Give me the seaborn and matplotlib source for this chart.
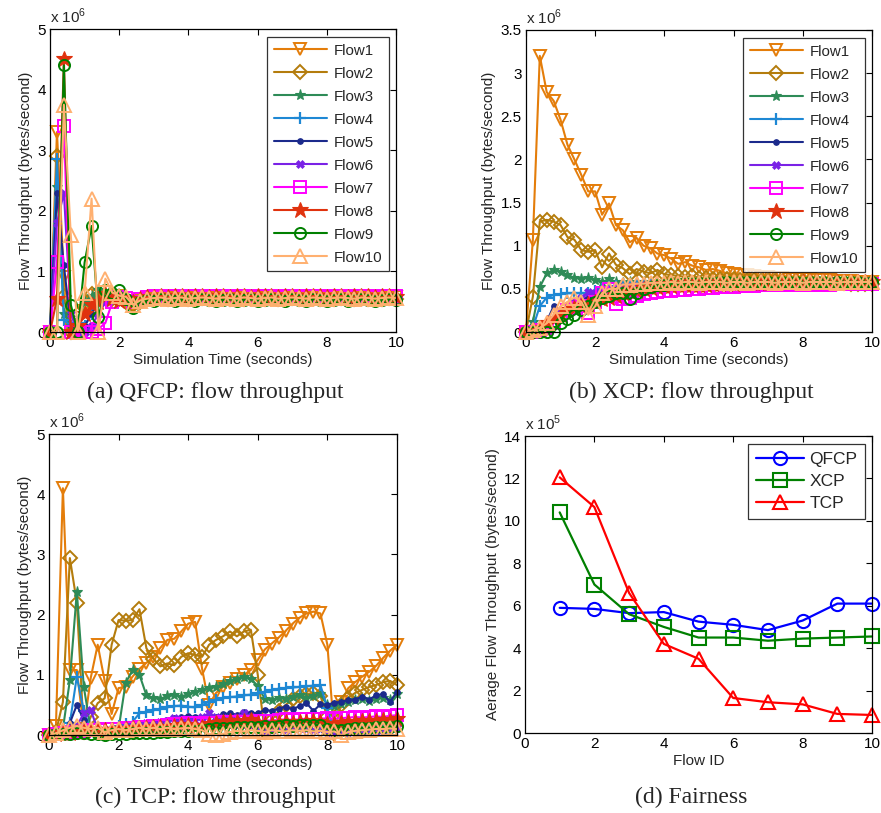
import numpy as np
import pandas as pd
import matplotlib
matplotlib.use("Agg")
import matplotlib.pyplot as plt
import seaborn as sns

# ---------------- data ----------------
TIME = [0.0, 0.2, 0.4, 0.6, 0.8, 1.0, 1.2, 1.4, 1.6, 1.8,
        2.0, 2.2, 2.4, 2.6, 2.8, 3.0, 3.2, 3.4, 3.6, 3.8,
        4.0, 4.2, 4.4, 4.6, 4.8, 5.0, 5.2, 5.4, 5.6, 5.8,
        6.0, 6.2, 6.4, 6.6, 6.8, 7.0, 7.2, 7.4, 7.6, 7.8,
        8.0, 8.2, 8.4, 8.6, 8.8, 9.0, 9.2, 9.4, 9.6, 9.8,
        10.0]

FLOWS = ["Flow1", "Flow2", "Flow3", "Flow4", "Flow5",
         "Flow6", "Flow7", "Flow8", "Flow9", "Flow10"]

# (a) QFCP flow throughput, x 10^6 bytes/second
QFCP_F1 = [0.00, 3.30, 0.90, 0.05, 0.00, 0.35, 0.50, 0.60, 0.58, 0.55,
           0.60, 0.52, 0.45, 0.52, 0.55, 0.56, 0.55, 0.57, 0.55, 0.56,
           0.55, 0.57, 0.56, 0.55, 0.57, 0.56, 0.55, 0.56, 0.57, 0.55,
           0.56, 0.57, 0.55, 0.56, 0.57, 0.56, 0.55, 0.57, 0.56, 0.55,
           0.57, 0.56, 0.55, 0.57, 0.56, 0.55, 0.57, 0.56, 0.55, 0.56,
           0.57]
QFCP_F2 = [0.00, 2.90, 0.60, 0.00, 0.10, 0.40, 0.62, 0.55, 0.60, 0.55,
           0.55, 0.50, 0.45, 0.50, 0.54, 0.55, 0.56, 0.54, 0.55, 0.56,
           0.55, 0.54, 0.56, 0.55, 0.54, 0.56, 0.55, 0.54, 0.55, 0.56,
           0.54, 0.55, 0.56, 0.54, 0.55, 0.56, 0.55, 0.54, 0.56, 0.55,
           0.54, 0.55, 0.56, 0.55, 0.54, 0.56, 0.55, 0.54, 0.55, 0.56,
           0.55]
QFCP_F3 = [0.00, 2.40, 0.30, 0.10, 0.20, 0.50, 0.60, 0.70, 0.62, 0.56,
           0.55, 0.52, 0.46, 0.52, 0.55, 0.54, 0.55, 0.53, 0.55, 0.54,
           0.53, 0.55, 0.54, 0.53, 0.55, 0.54, 0.53, 0.55, 0.54, 0.55,
           0.53, 0.54, 0.55, 0.53, 0.54, 0.55, 0.54, 0.53, 0.55, 0.54,
           0.53, 0.55, 0.54, 0.53, 0.54, 0.55, 0.53, 0.54, 0.55, 0.54,
           0.53]
QFCP_F4 = [0.00, 2.85, 0.20, 0.10, 0.15, 0.10, 0.30, 0.50, 0.55, 0.55,
           0.56, 0.54, 0.48, 0.53, 0.56, 0.57, 0.56, 0.58, 0.57, 0.56,
           0.58, 0.57, 0.56, 0.58, 0.57, 0.56, 0.57, 0.58, 0.56, 0.57,
           0.58, 0.56, 0.57, 0.58, 0.57, 0.56, 0.58, 0.57, 0.56, 0.57,
           0.58, 0.56, 0.57, 0.58, 0.56, 0.57, 0.58, 0.57, 0.56, 0.58,
           0.57]
QFCP_F5 = [0.00, 2.30, 1.10, 0.10, 0.05, 0.10, 0.30, 0.50, 0.55, 0.56,
           0.55, 0.53, 0.47, 0.52, 0.55, 0.56, 0.55, 0.56, 0.57, 0.55,
           0.56, 0.57, 0.55, 0.56, 0.55, 0.57, 0.56, 0.55, 0.56, 0.57,
           0.55, 0.56, 0.57, 0.56, 0.55, 0.56, 0.57, 0.55, 0.56, 0.57,
           0.56, 0.55, 0.56, 0.57, 0.55, 0.56, 0.57, 0.56, 0.55, 0.56,
           0.57]
QFCP_F6 = [0.00, 1.80, 2.30, 0.30, 0.00, 0.00, 0.10, 0.30, 0.50, 0.56,
           0.57, 0.55, 0.48, 0.53, 0.56, 0.58, 0.57, 0.56, 0.58, 0.57,
           0.56, 0.58, 0.57, 0.58, 0.56, 0.57, 0.58, 0.57, 0.56, 0.58,
           0.57, 0.56, 0.58, 0.57, 0.58, 0.56, 0.57, 0.58, 0.57, 0.56,
           0.58, 0.57, 0.56, 0.58, 0.57, 0.58, 0.56, 0.57, 0.58, 0.57,
           0.56]
QFCP_F7 = [0.00, 1.15, 3.40, 0.00, 0.00, 0.00, 0.00, 0.05, 0.15, 0.50,
           0.58, 0.56, 0.50, 0.55, 0.58, 0.59, 0.58, 0.60, 0.59, 0.58,
           0.60, 0.59, 0.58, 0.60, 0.59, 0.60, 0.58, 0.59, 0.60, 0.58,
           0.59, 0.60, 0.59, 0.58, 0.60, 0.59, 0.58, 0.60, 0.59, 0.60,
           0.58, 0.59, 0.60, 0.58, 0.59, 0.60, 0.59, 0.58, 0.60, 0.59,
           0.60]
QFCP_F8 = [0.00, 0.55, 4.50, 0.00, 0.10, 0.30, 0.45, 0.50, 0.62, 0.55,
           0.52, 0.55, 0.50, 0.54, 0.57, 0.58, 0.60, 0.58, 0.59, 0.60,
           0.58, 0.59, 0.60, 0.58, 0.60, 0.59, 0.58, 0.60, 0.59, 0.58,
           0.60, 0.59, 0.60, 0.58, 0.59, 0.60, 0.58, 0.59, 0.60, 0.59,
           0.58, 0.60, 0.59, 0.58, 0.60, 0.59, 0.60, 0.58, 0.59, 0.60,
           0.58]
QFCP_F9 = [0.00, 0.00, 4.40, 0.45, 0.00, 1.15, 1.75, 0.25, 0.70, 0.65,
           0.70, 0.55, 0.40, 0.50, 0.53, 0.52, 0.54, 0.53, 0.52, 0.54,
           0.53, 0.52, 0.54, 0.53, 0.52, 0.53, 0.54, 0.52, 0.53, 0.54,
           0.52, 0.53, 0.54, 0.53, 0.52, 0.54, 0.53, 0.52, 0.54, 0.53,
           0.52, 0.53, 0.54, 0.52, 0.53, 0.54, 0.53, 0.52, 0.53, 0.54,
           0.53]
QFCP_F10 = [0.00, 0.00, 3.75, 1.60, 0.00, 0.65, 2.20, 0.00, 0.88, 0.65,
            0.60, 0.58, 0.45, 0.52, 0.55, 0.56, 0.57, 0.55, 0.56, 0.57,
            0.55, 0.56, 0.57, 0.56, 0.55, 0.57, 0.56, 0.55, 0.57, 0.56,
            0.55, 0.56, 0.57, 0.55, 0.56, 0.57, 0.56, 0.55, 0.57, 0.56,
            0.55, 0.56, 0.57, 0.56, 0.55, 0.57, 0.56, 0.55, 0.56, 0.57,
            0.56]

# (b) XCP flow throughput, x 10^6 bytes/second
XCP_F1 = [0.00, 1.07, 3.20, 2.78, 2.68, 2.46, 2.17, 2.00, 1.82, 1.63,
          1.63, 1.36, 1.49, 1.24, 1.18, 1.04, 1.09, 1.00, 0.97, 0.91,
          0.89, 0.85, 0.79, 0.81, 0.77, 0.75, 0.72, 0.73, 0.71, 0.68,
          0.67, 0.66, 0.66, 0.65, 0.64, 0.64, 0.63, 0.63, 0.62, 0.62,
          0.61, 0.61, 0.60, 0.60, 0.60, 0.59, 0.59, 0.59, 0.58, 0.58,
          0.58]
XCP_F2 = [0.00, 0.41, 1.28, 1.30, 1.28, 1.24, 1.10, 1.07, 0.95, 0.93,
          0.95, 0.75, 0.91, 0.78, 0.74, 0.67, 0.73, 0.70, 0.68, 0.72,
          0.67, 0.66, 0.65, 0.64, 0.65, 0.63, 0.63, 0.62, 0.62, 0.61,
          0.61, 0.60, 0.60, 0.60, 0.59, 0.59, 0.59, 0.58, 0.58, 0.58,
          0.58, 0.58, 0.57, 0.57, 0.57, 0.57, 0.57, 0.56, 0.56, 0.56,
          0.56]
XCP_F3 = [0.00, 0.12, 0.52, 0.68, 0.72, 0.70, 0.66, 0.63, 0.62, 0.63,
          0.60, 0.58, 0.61, 0.58, 0.57, 0.58, 0.57, 0.58, 0.57, 0.58,
          0.57, 0.58, 0.57, 0.57, 0.58, 0.57, 0.57, 0.58, 0.57, 0.57,
          0.57, 0.58, 0.57, 0.57, 0.57, 0.58, 0.57, 0.57, 0.57, 0.57,
          0.58, 0.57, 0.57, 0.57, 0.57, 0.57, 0.58, 0.57, 0.57, 0.57,
          0.57]
XCP_F4 = [0.00, 0.05, 0.30, 0.40, 0.43, 0.44, 0.45, 0.45, 0.45, 0.45,
          0.47, 0.50, 0.52, 0.53, 0.53, 0.54, 0.54, 0.55, 0.55, 0.55,
          0.56, 0.55, 0.56, 0.56, 0.56, 0.56, 0.57, 0.56, 0.57, 0.56,
          0.57, 0.57, 0.56, 0.57, 0.57, 0.57, 0.56, 0.57, 0.57, 0.57,
          0.57, 0.57, 0.57, 0.56, 0.57, 0.57, 0.57, 0.57, 0.57, 0.57,
          0.57]
XCP_F5 = [0.00, 0.02, 0.05, 0.12, 0.30, 0.25, 0.30, 0.35, 0.38, 0.40,
          0.42, 0.44, 0.46, 0.47, 0.48, 0.49, 0.50, 0.51, 0.52, 0.52,
          0.53, 0.53, 0.54, 0.54, 0.54, 0.55, 0.55, 0.55, 0.55, 0.56,
          0.56, 0.56, 0.56, 0.56, 0.56, 0.56, 0.57, 0.57, 0.57, 0.57,
          0.57, 0.57, 0.57, 0.57, 0.57, 0.57, 0.57, 0.57, 0.57, 0.57,
          0.57]
XCP_F6 = [0.00, 0.02, 0.05, 0.08, 0.15, 0.22, 0.30, 0.35, 0.40, 0.46,
          0.45, 0.47, 0.50, 0.51, 0.52, 0.53, 0.53, 0.54, 0.54, 0.55,
          0.55, 0.55, 0.55, 0.56, 0.56, 0.56, 0.56, 0.56, 0.56, 0.57,
          0.57, 0.57, 0.57, 0.57, 0.57, 0.57, 0.57, 0.57, 0.57, 0.57,
          0.57, 0.57, 0.57, 0.57, 0.57, 0.57, 0.57, 0.57, 0.57, 0.57,
          0.57]
XCP_F7 = [0.00, 0.00, 0.02, 0.05, 0.10, 0.20, 0.25, 0.28, 0.30, 0.22,
          0.35, 0.45, 0.50, 0.32, 0.38, 0.40, 0.42, 0.44, 0.45, 0.46,
          0.48, 0.48, 0.49, 0.49, 0.50, 0.50, 0.51, 0.51, 0.52, 0.52,
          0.52, 0.53, 0.53, 0.53, 0.54, 0.54, 0.54, 0.54, 0.55, 0.55,
          0.55, 0.55, 0.55, 0.55, 0.55, 0.56, 0.56, 0.56, 0.56, 0.56,
          0.56]
XCP_F8 = [0.00, 0.02, 0.05, 0.10, 0.15, 0.20, 0.25, 0.28, 0.30, 0.32,
          0.35, 0.38, 0.40, 0.42, 0.45, 0.47, 0.48, 0.50, 0.51, 0.52,
          0.53, 0.53, 0.54, 0.54, 0.55, 0.55, 0.55, 0.56, 0.56, 0.56,
          0.56, 0.57, 0.57, 0.57, 0.57, 0.57, 0.57, 0.58, 0.58, 0.58,
          0.58, 0.58, 0.58, 0.58, 0.58, 0.58, 0.58, 0.58, 0.58, 0.58,
          0.58]
XCP_F9 = [0.00, 0.00, 0.00, 0.00, 0.00, 0.10, 0.15, 0.20, 0.25, 0.30,
          0.35, 0.40, 0.42, 0.45, 0.45, 0.38, 0.45, 0.50, 0.52, 0.54,
          0.55, 0.56, 0.56, 0.57, 0.57, 0.57, 0.57, 0.57, 0.58, 0.58,
          0.57, 0.58, 0.58, 0.57, 0.58, 0.58, 0.57, 0.58, 0.58, 0.58,
          0.57, 0.58, 0.58, 0.58, 0.57, 0.58, 0.58, 0.58, 0.58, 0.57,
          0.58]
XCP_F10 = [0.00, 0.02, 0.05, 0.10, 0.20, 0.30, 0.35, 0.40, 0.35, 0.20,
           0.30, 0.45, 0.50, 0.50, 0.55, 0.55, 0.56, 0.56, 0.57, 0.57,
           0.57, 0.58, 0.57, 0.58, 0.58, 0.57, 0.58, 0.58, 0.58, 0.57,
           0.58, 0.58, 0.57, 0.58, 0.58, 0.58, 0.57, 0.58, 0.58, 0.58,
           0.57, 0.58, 0.58, 0.58, 0.58, 0.57, 0.58, 0.58, 0.58, 0.58,
           0.58]

# (c) TCP flow throughput, x 10^6 bytes/second
TCP_F1 = [0.00, 0.15, 4.10, 1.08, 1.08, 0.10, 0.95, 1.50, 0.90, 0.35,
          0.78, 0.80, 0.97, 1.10, 1.20, 1.30, 1.45, 1.58, 1.60, 1.72,
          1.85, 1.88, 1.10, 0.50, 0.70, 0.80, 0.86, 0.93, 1.00, 1.08,
          1.25, 1.42, 1.52, 1.62, 1.73, 1.85, 1.95, 2.02, 2.05, 2.02,
          1.50, 0.00, 0.55, 0.78, 0.88, 0.97, 1.05, 1.15, 1.28, 1.40,
          1.50]
TCP_F2 = [0.00, 0.05, 0.55, 2.94, 2.20, 0.05, 0.30, 0.53, 0.61, 1.50,
          1.91, 1.90, 1.91, 2.09, 1.44, 1.27, 1.14, 1.19, 1.16, 1.30,
          1.36, 1.33, 1.30, 1.50, 1.58, 1.64, 1.72, 1.64, 1.72, 1.75,
          1.00, 0.05, 0.25, 0.40, 0.50, 0.60, 0.65, 0.68, 0.70, 0.65,
          0.30, 0.40, 0.50, 0.62, 0.70, 0.75, 0.80, 0.83, 0.88, 0.90,
          0.83]
TCP_F3 = [0.00, 0.02, 0.10, 0.91, 2.38, 0.80, 0.10, 0.05, 0.05, 0.05,
          0.10, 0.86, 1.08, 1.00, 0.66, 0.62, 0.60, 0.65, 0.66, 0.64,
          0.68, 0.72, 0.75, 0.78, 0.80, 0.85, 0.90, 0.93, 0.96, 0.93,
          0.82, 0.60, 0.58, 0.62, 0.60, 0.64, 0.66, 0.62, 0.65, 0.68,
          0.50, 0.48, 0.52, 0.55, 0.58, 0.60, 0.56, 0.60, 0.62, 0.58,
          0.68]
TCP_F4 = [0.00, 0.02, 0.10, 0.20, 0.97, 0.40, 0.10, 0.08, 0.10, 0.12,
          0.15, 0.18, 0.22, 0.36, 0.39, 0.41, 0.44, 0.46, 0.48, 0.49,
          0.47, 0.46, 0.50, 0.55, 0.58, 0.61, 0.63, 0.64, 0.66, 0.67,
          0.69, 0.72, 0.75, 0.77, 0.78, 0.79, 0.80, 0.81, 0.82, 0.83,
          0.45, 0.02, 0.05, 0.04, 0.06, 0.05, 0.07, 0.06, 0.08, 0.07,
          0.08]
TCP_F5 = [0.00, 0.02, 0.05, 0.20, 0.50, 0.25, 0.10, 0.08, 0.10, 0.12,
          0.12, 0.15, 0.15, 0.18, 0.18, 0.20, 0.22, 0.25, 0.28, 0.30,
          0.32, 0.30, 0.28, 0.33, 0.30, 0.35, 0.36, 0.34, 0.38, 0.37,
          0.36, 0.42, 0.40, 0.44, 0.47, 0.43, 0.48, 0.53, 0.40, 0.51,
          0.50, 0.54, 0.55, 0.58, 0.59, 0.64, 0.59, 0.66, 0.68, 0.55,
          0.72]
TCP_F6 = [0.00, 0.02, 0.05, 0.10, 0.15, 0.36, 0.41, 0.10, 0.08, 0.10,
          0.12, 0.14, 0.15, 0.18, 0.20, 0.20, 0.22, 0.24, 0.28, 0.26,
          0.25, 0.24, 0.30, 0.36, 0.30, 0.28, 0.25, 0.30, 0.36, 0.30,
          0.08, 0.06, 0.08, 0.10, 0.08, 0.10, 0.12, 0.10, 0.08, 0.10,
          0.05, 0.04, 0.06, 0.05, 0.07, 0.06, 0.08, 0.07, 0.08, 0.10,
          0.12]
TCP_F7 = [0.00, 0.02, 0.03, 0.05, 0.05, 0.06, 0.08, 0.08, 0.10, 0.10,
          0.10, 0.12, 0.12, 0.13, 0.14, 0.15, 0.15, 0.16, 0.18, 0.18,
          0.20, 0.20, 0.18, 0.20, 0.20, 0.22, 0.22, 0.21, 0.22, 0.22,
          0.23, 0.24, 0.24, 0.25, 0.26, 0.25, 0.26, 0.27, 0.26, 0.27,
          0.28, 0.27, 0.28, 0.29, 0.30, 0.29, 0.30, 0.31, 0.30, 0.32,
          0.33]
TCP_F8 = [0.00, 0.02, 0.03, 0.04, 0.05, 0.06, 0.07, 0.08, 0.08, 0.09,
          0.10, 0.10, 0.11, 0.12, 0.12, 0.13, 0.14, 0.14, 0.15, 0.16,
          0.16, 0.15, 0.14, 0.18, 0.20, 0.22, 0.23, 0.22, 0.24, 0.25,
          0.20, 0.18, 0.19, 0.20, 0.21, 0.20, 0.22, 0.21, 0.23, 0.22,
          0.18, 0.19, 0.20, 0.21, 0.22, 0.23, 0.24, 0.23, 0.25, 0.24,
          0.26]
TCP_F9 = [0.00, 0.01, 0.02, 0.02, 0.03, 0.03, 0.02, 0.01, 0.00, 0.01,
          0.02, 0.02, 0.03, 0.03, 0.04, 0.04, 0.05, 0.05, 0.06, 0.06,
          0.07, 0.07, 0.08, 0.10, 0.11, 0.12, 0.12, 0.13, 0.13, 0.14,
          0.14, 0.15, 0.14, 0.15, 0.16, 0.15, 0.16, 0.17, 0.16, 0.17,
          0.10, 0.08, 0.09, 0.10, 0.11, 0.12, 0.12, 0.13, 0.13, 0.14,
          0.15]
TCP_F10 = [0.00, 0.03, 0.08, 0.12, 0.15, 0.12, 0.10, 0.12, 0.05, 0.08,
           0.10, 0.08, 0.10, 0.12, 0.10, 0.12, 0.10, 0.12, 0.10, 0.11,
           0.12, 0.10, 0.08, 0.02, 0.00, 0.02, 0.05, 0.07, 0.06, 0.08,
           0.07, 0.05, 0.08, 0.07, 0.06, 0.08, 0.07, 0.08, 0.06, 0.07,
           0.05, 0.06, 0.00, 0.05, 0.07, 0.08, 0.09, 0.10, 0.10, 0.11,
           0.10]

# (d) Fairness: average flow throughput, x 10^5 bytes/second
FLOW_ID = [1, 2, 3, 4, 5, 6, 7, 8, 9, 10]
AVG_QFCP = [5.90, 5.85, 5.65, 5.70, 5.25, 5.10, 4.85, 5.30, 6.10, 6.10]
AVG_XCP = [10.40, 7.00, 5.60, 5.00, 4.50, 4.50, 4.35, 4.45, 4.50, 4.55]
AVG_TCP = [12.05, 10.65, 6.60, 4.20, 3.50, 1.65, 1.45, 1.35, 0.90, 0.85]

QFCP_DATA = [QFCP_F1, QFCP_F2, QFCP_F3, QFCP_F4, QFCP_F5,
             QFCP_F6, QFCP_F7, QFCP_F8, QFCP_F9, QFCP_F10]
XCP_DATA = [XCP_F1, XCP_F2, XCP_F3, XCP_F4, XCP_F5,
            XCP_F6, XCP_F7, XCP_F8, XCP_F9, XCP_F10]
TCP_DATA = [TCP_F1, TCP_F2, TCP_F3, TCP_F4, TCP_F5,
            TCP_F6, TCP_F7, TCP_F8, TCP_F9, TCP_F10]

# ---------------- style ----------------
FLOW_STYLE = [
    dict(color="#E47D0A", marker="v", ms=9, mfc="none", mew=1.4),
    dict(color="#B47C0C", marker="D", ms=7, mfc="none", mew=1.4),
    dict(color="#2E8B57", marker="*", ms=8, mfc="#2E8B57", mew=0.8),
    dict(color="#1E88D4", marker="+", ms=9, mfc="none", mew=1.6),
    dict(color="#1B2A8C", marker="o", ms=4, mfc="#1B2A8C", mew=0.8),
    dict(color="#7A22E6", marker="X", ms=5.5, mfc="#7A22E6", mew=0.5),
    dict(color="#FF00FF", marker="s", ms=8, mfc="none", mew=1.4),
    dict(color="#E0320E", marker="*", ms=12, mfc="#E0320E", mew=0.8),
    dict(color="#008000", marker="o", ms=8, mfc="none", mew=1.4),
    dict(color="#FFB070", marker="^", ms=9.5, mfc="none", mew=1.4),
]

sns.set_style("white")
plt.rcParams["font.family"] = ["Liberation Sans", "DejaVu Sans"]
plt.rcParams["mathtext.fontset"] = "custom"
plt.rcParams["mathtext.rm"] = "Liberation Sans"

TICK_FS = 11
LABEL_FS = 11
LEG_FS = 10.8
CAP_FS = 17

fig = plt.figure(figsize=(8.81, 8.13), dpi=100)
ax_a = fig.add_axes([0.0568, 0.5916, 0.3927, 0.3727])
ax_b = fig.add_axes([0.5970, 0.5916, 0.3927, 0.3715])
ax_c = fig.add_axes([0.0556, 0.0959, 0.3950, 0.3702])
ax_d = fig.add_axes([0.5959, 0.0984, 0.3939, 0.3653])


def style_axes(ax, ylim, yticks, exponent, xlabel, ylabel):
    ax.set_xlim(0, 10)
    ax.set_ylim(*ylim)
    ax.set_xticks([0, 2, 4, 6, 8, 10])
    ax.set_yticks(yticks)
    ax.set_yticklabels([("%g" % v) for v in yticks])
    ax.tick_params(direction="in", top=True, right=True, length=4,
                   width=0.8, labelsize=TICK_FS, pad=3, colors="black")
    for s in ax.spines.values():
        s.set_visible(True)
        s.set_color("black")
        s.set_linewidth(0.9)
    ax.set_xlabel(xlabel, fontsize=LABEL_FS, labelpad=2)
    ax.set_ylabel(ylabel, fontsize=LABEL_FS, labelpad=3)
    ax.text(0.0, 1.01, r"x 10$^{\mathregular{%d}}$" % exponent,
            transform=ax.transAxes, ha="left", va="bottom",
            fontsize=TICK_FS)
    ax.grid(False)


def draw_flows(ax, data, legend):
    for name, vals, st in zip(FLOWS, data, FLOW_STYLE):
        df = pd.DataFrame({"t": TIME, "v": vals})
        sns.lineplot(data=df, x="t", y="v", ax=ax, color=st["color"],
                     marker=st["marker"], markersize=st["ms"],
                     markerfacecolor=st["mfc"], markeredgecolor=st["color"],
                     markeredgewidth=st["mew"], linewidth=1.5,
                     label=name if legend else None, clip_on=False,
                     estimator=None, sort=False)
    if legend:
        leg = ax.legend(loc="upper right", bbox_to_anchor=(0.979, 0.974),
                        borderaxespad=0, frameon=True, fancybox=False,
                        edgecolor="black", fontsize=LEG_FS, numpoints=1,
                        handlelength=3.5, handletextpad=0.45,
                        labelspacing=0.6, borderpad=0.45)
        leg.get_frame().set_linewidth(0.9)
    elif ax.get_legend() is not None:
        ax.get_legend().remove()


XLAB = "Simulation Time (seconds)"
YLAB = "Flow Throughput (bytes/second)"

draw_flows(ax_a, QFCP_DATA, True)
style_axes(ax_a, (0, 5), [0, 1, 2, 3, 4, 5], 6, XLAB, YLAB)

draw_flows(ax_b, XCP_DATA, True)
style_axes(ax_b, (0, 3.5), [0, 0.5, 1, 1.5, 2, 2.5, 3, 3.5], 6, XLAB, YLAB)

draw_flows(ax_c, TCP_DATA, False)
style_axes(ax_c, (0, 5), [0, 1, 2, 3, 4, 5], 6, XLAB, YLAB)

# (d) fairness
fair = pd.DataFrame({
    "id": FLOW_ID * 3,
    "v": AVG_QFCP + AVG_XCP + AVG_TCP,
    "proto": ["QFCP"] * 10 + ["XCP"] * 10 + ["TCP"] * 10,
})
FAIR_STYLE = {"QFCP": ("#0000FF", "o"), "XCP": ("#008000", "s"),
              "TCP": ("#FF0000", "^")}
for proto in ["QFCP", "XCP", "TCP"]:
    col, mk = FAIR_STYLE[proto]
    sub = fair[fair["proto"] == proto]
    sns.lineplot(data=sub, x="id", y="v", ax=ax_d, color=col, marker=mk,
                 markersize=9.5, markerfacecolor="none", markeredgecolor=col,
                 markeredgewidth=1.5, linewidth=1.6, label=proto,
                 clip_on=False, estimator=None)
style_axes(ax_d, (0, 14), [0, 2, 4, 6, 8, 10, 12, 14], 5, "Flow ID",
           "Aerage Flow Throughput (bytes/second)")
leg = ax_d.legend(loc="upper right", bbox_to_anchor=(0.98, 0.973),
                  borderaxespad=0, frameon=True, fancybox=False,
                  edgecolor="black", fontsize=12.5, numpoints=1,
                  handlelength=2.75, handletextpad=0.3,
                  labelspacing=0.4, borderpad=0.45)
leg.get_frame().set_linewidth(0.9)

# captions
CAP_FONT = ["Liberation Serif", "DejaVu Serif"]
fig.text(215 / 881, 1 - 392 / 813, "(a) QFCP: flow throughput",
         ha="center", va="center", fontsize=CAP_FS, family=CAP_FONT)
fig.text(691 / 881, 1 - 392 / 813, "(b) XCP: flow throughput",
         ha="center", va="center", fontsize=CAP_FS, family=CAP_FONT)
fig.text(215 / 881, 1 - 797 / 813, "(c) TCP: flow throughput",
         ha="center", va="center", fontsize=CAP_FS, family=CAP_FONT)
fig.text(691 / 881, 1 - 797 / 813, "(d) Fairness",
         ha="center", va="center", fontsize=CAP_FS, family=CAP_FONT)

fig.savefig("out.png", dpi=100, facecolor="white")
